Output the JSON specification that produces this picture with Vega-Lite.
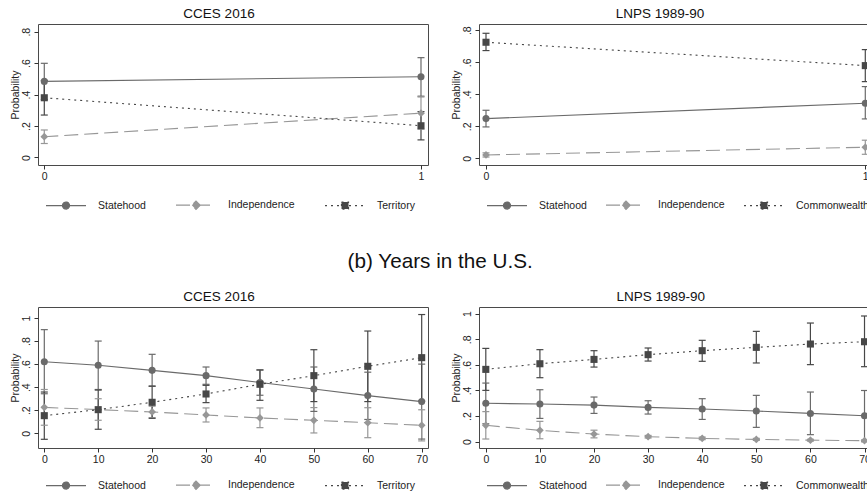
{
  "$schema": "https://vega.github.io/schema/vega-lite/v6.json",
  "padding": {"left": 9, "top": 6, "right": 0, "bottom": 0},
  "background": "white",
  "config": {
    "font": "Liberation Sans",
    "view": {"stroke": "#4a4a4a", "strokeWidth": 1},
    "axis": {"grid": false, "domain": false, "ticks": true, "tickSize": 4, "tickColor": "#333", "tickWidth": 1, "labelFont": "Liberation Sans", "labelFontSize": 10.5, "labelColor": "#222", "labelPadding": 2, "titleFont": "Liberation Sans", "titleFontSize": 10.5, "titleFontWeight": "normal", "titleColor": "#222", "labelFlush": false, "labelOverlap": false},
    "axisY": {"labelAngle": -90, "labelAlign": "center", "labelBaseline": "bottom", "labelPadding": 3, "titlePadding": 1, "labelOverlap": false},
    "title": {"font": "Liberation Sans", "fontSize": 13.5, "fontWeight": "normal", "color": "#111", "anchor": "middle", "frame": "bounds", "offset": 4},
    "legend": {"orient": "bottom", "direction": "horizontal", "symbolSize": 144, "labelOffset": 46, "columnPadding": 22, "labelFont": "Liberation Sans", "labelFontSize": 10.5, "labelColor": "#222", "symbolStrokeWidth": 1.2, "symbolOpacity": 1, "offset": 14, "padding": 0}
  },
  "datasets": {
    "cb": [
      {"x": 0, "series": "Statehood", "p": 0.484, "lo": 0.369, "hi": 0.599},
      {"x": 1, "series": "Statehood", "p": 0.514, "lo": 0.39, "hi": 0.635},
      {"x": 0, "series": "Independence", "p": 0.132, "lo": 0.089, "hi": 0.175},
      {"x": 1, "series": "Independence", "p": 0.282, "lo": 0.18, "hi": 0.385},
      {"x": 0, "series": "Territory", "p": 0.38, "lo": 0.27, "hi": 0.49},
      {"x": 1, "series": "Territory", "p": 0.202, "lo": 0.112, "hi": 0.292}
    ],
    "lb": [
      {"x": 0, "series": "Statehood", "p": 0.248, "lo": 0.196, "hi": 0.3},
      {"x": 1, "series": "Statehood", "p": 0.344, "lo": 0.246, "hi": 0.448},
      {"x": 0, "series": "Independence", "p": 0.021, "lo": 0.008, "hi": 0.034},
      {"x": 1, "series": "Independence", "p": 0.069, "lo": 0.025, "hi": 0.113},
      {"x": 0, "series": "Commonwealth", "p": 0.725, "lo": 0.673, "hi": 0.781},
      {"x": 1, "series": "Commonwealth", "p": 0.579, "lo": 0.479, "hi": 0.679}
    ],
    "cy": [
      {"x": 0, "series": "Statehood", "p": 0.621, "lo": 0.343, "hi": 0.899},
      {"x": 10, "series": "Statehood", "p": 0.59, "lo": 0.38, "hi": 0.8},
      {"x": 20, "series": "Statehood", "p": 0.546, "lo": 0.407, "hi": 0.685},
      {"x": 30, "series": "Statehood", "p": 0.5, "lo": 0.425, "hi": 0.575},
      {"x": 40, "series": "Statehood", "p": 0.44, "lo": 0.33, "hi": 0.55},
      {"x": 50, "series": "Statehood", "p": 0.384, "lo": 0.19, "hi": 0.575},
      {"x": 60, "series": "Statehood", "p": 0.327, "lo": 0.12, "hi": 0.53},
      {"x": 70, "series": "Statehood", "p": 0.275, "lo": -0.05, "hi": 0.6},
      {"x": 0, "series": "Independence", "p": 0.225, "lo": 0.07, "hi": 0.38},
      {"x": 10, "series": "Independence", "p": 0.205, "lo": 0.113, "hi": 0.3},
      {"x": 20, "series": "Independence", "p": 0.185, "lo": 0.135, "hi": 0.235},
      {"x": 30, "series": "Independence", "p": 0.159, "lo": 0.098, "hi": 0.22},
      {"x": 40, "series": "Independence", "p": 0.133, "lo": 0.049, "hi": 0.22},
      {"x": 50, "series": "Independence", "p": 0.113, "lo": 0.003, "hi": 0.223},
      {"x": 60, "series": "Independence", "p": 0.092, "lo": -0.038, "hi": 0.222},
      {"x": 70, "series": "Independence", "p": 0.069, "lo": -0.066, "hi": 0.204},
      {"x": 0, "series": "Territory", "p": 0.153, "lo": -0.052, "hi": 0.358},
      {"x": 10, "series": "Territory", "p": 0.205, "lo": 0.035, "hi": 0.375},
      {"x": 20, "series": "Territory", "p": 0.269, "lo": 0.13, "hi": 0.41},
      {"x": 30, "series": "Territory", "p": 0.341, "lo": 0.266, "hi": 0.416},
      {"x": 40, "series": "Territory", "p": 0.425, "lo": 0.286, "hi": 0.549},
      {"x": 50, "series": "Territory", "p": 0.5, "lo": 0.275, "hi": 0.725},
      {"x": 60, "series": "Territory", "p": 0.581, "lo": 0.275, "hi": 0.887},
      {"x": 70, "series": "Territory", "p": 0.656, "lo": 0.28, "hi": 1.03}
    ],
    "ly": [
      {"x": 0, "series": "Statehood", "p": 0.3, "lo": 0.14, "hi": 0.458},
      {"x": 10, "series": "Statehood", "p": 0.294, "lo": 0.182, "hi": 0.406},
      {"x": 20, "series": "Statehood", "p": 0.286, "lo": 0.221, "hi": 0.349},
      {"x": 30, "series": "Statehood", "p": 0.268, "lo": 0.216, "hi": 0.32},
      {"x": 40, "series": "Statehood", "p": 0.255, "lo": 0.174, "hi": 0.336},
      {"x": 50, "series": "Statehood", "p": 0.24, "lo": 0.112, "hi": 0.362},
      {"x": 60, "series": "Statehood", "p": 0.221, "lo": 0.055, "hi": 0.388},
      {"x": 70, "series": "Statehood", "p": 0.203, "lo": 0.0, "hi": 0.4},
      {"x": 0, "series": "Independence", "p": 0.128, "lo": 0.021, "hi": 0.235},
      {"x": 10, "series": "Independence", "p": 0.0885, "lo": 0.023, "hi": 0.159},
      {"x": 20, "series": "Independence", "p": 0.06, "lo": 0.03, "hi": 0.09},
      {"x": 30, "series": "Independence", "p": 0.039, "lo": 0.029, "hi": 0.049},
      {"x": 40, "series": "Independence", "p": 0.026, "lo": 0.016, "hi": 0.036},
      {"x": 50, "series": "Independence", "p": 0.018, "lo": 0.01, "hi": 0.026},
      {"x": 60, "series": "Independence", "p": 0.012, "lo": 0.005, "hi": 0.019},
      {"x": 70, "series": "Independence", "p": 0.008, "lo": 0.002, "hi": 0.014},
      {"x": 0, "series": "Commonwealth", "p": 0.565, "lo": 0.401, "hi": 0.729},
      {"x": 10, "series": "Commonwealth", "p": 0.609, "lo": 0.5, "hi": 0.719},
      {"x": 20, "series": "Commonwealth", "p": 0.643, "lo": 0.583, "hi": 0.711},
      {"x": 30, "series": "Commonwealth", "p": 0.68, "lo": 0.63, "hi": 0.732},
      {"x": 40, "series": "Commonwealth", "p": 0.711, "lo": 0.628, "hi": 0.792},
      {"x": 50, "series": "Commonwealth", "p": 0.737, "lo": 0.615, "hi": 0.862},
      {"x": 60, "series": "Commonwealth", "p": 0.763, "lo": 0.602, "hi": 0.927},
      {"x": 70, "series": "Commonwealth", "p": 0.781, "lo": 0.586, "hi": 0.982}
    ]
  },
  "resolve": {"scale": {"color": "independent", "fill": "independent", "stroke": "independent", "shape": "independent", "strokeDash": "independent"}, "legend": {"color": "independent", "fill": "independent", "stroke": "independent", "shape": "independent", "strokeDash": "independent"}},
  "spacing": 38,
  "vconcat": [
    {
      "spacing": 21,
      "resolve": {"scale": {"color": "independent", "fill": "independent", "stroke": "independent", "shape": "independent", "strokeDash": "independent"}, "legend": {"color": "independent", "fill": "independent", "stroke": "independent", "shape": "independent", "strokeDash": "independent"}},
      "hconcat": [
        {
          "width": 390, "height": 141, "title": "CCES 2016", "data": {"name": "cb"},
          "encoding": {
            "x": {"field": "x", "type": "quantitative", "scale": {"domain": [-0.0167, 1.0186], "nice": false, "zero": false}, "axis": {"values": [0, 1], "title": null, "format": "d", "labelOverlap": false}},
            "y": {"field": "p", "type": "quantitative", "scale": {"domain": [-0.0477, 0.849], "nice": false, "zero": false}, "axis": {"values": [0, 0.2, 0.4, 0.6, 0.8], "title": "Probability", "labelOverlap": false, "labelExpr": "datum.value == 0 ? '0' : datum.value == 1 ? '1' : replace(format(datum.value, '.1f'), '0.', '.')"}},
            "color": {"field": "series", "type": "nominal", "scale": {"range": ["#979797", "#6a6a6a", "#474747"]}, "legend": null}
          },
          "layer": [
            {"mark": {"type": "rule", "strokeWidth": 1.2}, "encoding": {"y": {"field": "lo", "type": "quantitative", "scale": {"domain": [-0.0477, 0.849], "nice": false, "zero": false}, "axis": {"values": [0, 0.2, 0.4, 0.6, 0.8], "title": "Probability", "labelOverlap": false, "labelExpr": "datum.value == 0 ? '0' : datum.value == 1 ? '1' : replace(format(datum.value, '.1f'), '0.', '.')"}}, "y2": {"field": "hi"}}},
            {"transform": [{"fold": ["lo", "hi"], "as": ["end", "v"]}], "mark": {"type": "tick", "orient": "horizontal", "size": 7, "thickness": 1.2, "opacity": 1}, "encoding": {"y": {"field": "v", "type": "quantitative", "scale": {"domain": [-0.0477, 0.849], "nice": false, "zero": false}, "axis": {"values": [0, 0.2, 0.4, 0.6, 0.8], "title": "Probability", "labelOverlap": false, "labelExpr": "datum.value == 0 ? '0' : datum.value == 1 ? '1' : replace(format(datum.value, '.1f'), '0.', '.')"}}}},
            {"transform": [{"filter": "datum.series == 'Statehood'"}], "mark": {"type": "line", "strokeWidth": 1.1, "point": {"shape": "circle", "filled": true, "size": 50, "opacity": 1}}},
            {"transform": [{"filter": "datum.series == 'Independence'"}], "mark": {"type": "line", "strokeWidth": 1.1, "strokeDash": [14, 6], "point": {"shape": "diamond", "filled": true, "size": 60, "opacity": 1}}},
            {"transform": [{"filter": "datum.series == 'Territory'"}], "mark": {"type": "line", "strokeWidth": 1.1, "strokeDash": [2, 4], "point": {"shape": "square", "filled": true, "size": 50, "opacity": 1}}},
            {"transform": [{"filter": "datum.p < -5"}], "mark": {"type": "point", "filled": true}, "encoding": {
              "shape": {"field": "series", "type": "nominal", "scale": {"domain": ["Statehood", "Independence", "Territory"], "range": ["M0.167,0H6.833M4.083,0A0.583,0.583,0,1,1,2.917,0A0.583,0.583,0,1,1,4.083,0Z", "M0.167,0H6.833M3.5,-0.7L4.2,0L3.5,0.7L2.8,0Z", "M0.167,0H6.833M2.917,-0.583H4.083V0.583H2.917Z"]}, "legend": {"title": null, "offset": 16}},
              "fill": {"field": "series", "type": "nominal", "scale": {"domain": ["Statehood", "Independence", "Territory"], "range": ["#6a6a6a", "#979797", "#474747"]}, "legend": {"title": null, "offset": 16}},
              "stroke": {"field": "series", "type": "nominal", "scale": {"domain": ["Statehood", "Independence", "Territory"], "range": ["#6a6a6a", "#979797", "#474747"]}, "legend": {"title": null, "offset": 16}},
              "strokeDash": {"field": "series", "type": "nominal", "scale": {"domain": ["Statehood", "Independence", "Territory"], "range": [[1, 0], [14, 6], [2, 4]]}, "legend": {"title": null, "offset": 16}}
            }}
          ]
        },
        {
          "width": 388, "height": 141, "title": "LNPS 1989-90", "data": {"name": "lb"},
          "encoding": {
            "x": {"field": "x", "type": "quantitative", "scale": {"domain": [-0.01846, 1.0045], "nice": false, "zero": false}, "axis": {"values": [0, 1], "title": null, "format": "d", "labelOverlap": false}},
            "y": {"field": "p", "type": "quantitative", "scale": {"domain": [-0.0419, 0.839], "nice": false, "zero": false}, "axis": {"values": [0, 0.2, 0.4, 0.6, 0.8], "title": "Probability", "labelOverlap": false, "labelExpr": "datum.value == 0 ? '0' : datum.value == 1 ? '1' : replace(format(datum.value, '.1f'), '0.', '.')"}},
            "color": {"field": "series", "type": "nominal", "scale": {"range": ["#474747", "#979797", "#6a6a6a"]}, "legend": null}
          },
          "layer": [
            {"mark": {"type": "rule", "strokeWidth": 1.2}, "encoding": {"y": {"field": "lo", "type": "quantitative", "scale": {"domain": [-0.0419, 0.839], "nice": false, "zero": false}, "axis": {"values": [0, 0.2, 0.4, 0.6, 0.8], "title": "Probability", "labelOverlap": false, "labelExpr": "datum.value == 0 ? '0' : datum.value == 1 ? '1' : replace(format(datum.value, '.1f'), '0.', '.')"}}, "y2": {"field": "hi"}}},
            {"transform": [{"fold": ["lo", "hi"], "as": ["end", "v"]}], "mark": {"type": "tick", "orient": "horizontal", "size": 7, "thickness": 1.2, "opacity": 1}, "encoding": {"y": {"field": "v", "type": "quantitative", "scale": {"domain": [-0.0419, 0.839], "nice": false, "zero": false}, "axis": {"values": [0, 0.2, 0.4, 0.6, 0.8], "title": "Probability", "labelOverlap": false, "labelExpr": "datum.value == 0 ? '0' : datum.value == 1 ? '1' : replace(format(datum.value, '.1f'), '0.', '.')"}}}},
            {"transform": [{"filter": "datum.series == 'Statehood'"}], "mark": {"type": "line", "strokeWidth": 1.1, "point": {"shape": "circle", "filled": true, "size": 50, "opacity": 1}}},
            {"transform": [{"filter": "datum.series == 'Independence'"}], "mark": {"type": "line", "strokeWidth": 1.1, "strokeDash": [14, 6], "point": {"shape": "diamond", "filled": true, "size": 60, "opacity": 1}}},
            {"transform": [{"filter": "datum.series == 'Commonwealth'"}], "mark": {"type": "line", "strokeWidth": 1.1, "strokeDash": [2, 4], "point": {"shape": "square", "filled": true, "size": 50, "opacity": 1}}},
            {"transform": [{"filter": "datum.p < -5"}], "mark": {"type": "point", "filled": true}, "encoding": {
              "shape": {"field": "series", "type": "nominal", "scale": {"domain": ["Statehood", "Independence", "Commonwealth"], "range": ["M0.167,0H6.833M4.083,0A0.583,0.583,0,1,1,2.917,0A0.583,0.583,0,1,1,4.083,0Z", "M0.167,0H6.833M3.5,-0.7L4.2,0L3.5,0.7L2.8,0Z", "M0.167,0H6.833M2.917,-0.583H4.083V0.583H2.917Z"]}, "legend": {"title": null, "columnPadding": 11, "offset": 16}},
              "fill": {"field": "series", "type": "nominal", "scale": {"domain": ["Statehood", "Independence", "Commonwealth"], "range": ["#6a6a6a", "#979797", "#474747"]}, "legend": {"title": null, "columnPadding": 11, "offset": 16}},
              "stroke": {"field": "series", "type": "nominal", "scale": {"domain": ["Statehood", "Independence", "Commonwealth"], "range": ["#6a6a6a", "#979797", "#474747"]}, "legend": {"title": null, "columnPadding": 11, "offset": 16}},
              "strokeDash": {"field": "series", "type": "nominal", "scale": {"domain": ["Statehood", "Independence", "Commonwealth"], "range": [[1, 0], [14, 6], [2, 4]]}, "legend": {"title": null, "columnPadding": 11, "offset": 16}}
            }}
          ]
        }
      ]
    },
    {
      "title": {"text": "(b) Years in the U.S.", "fontSize": 20.7, "offset": 16, "anchor": "middle", "frame": "bounds", "color": "#111"},
      "spacing": 21,
      "resolve": {"scale": {"color": "independent", "fill": "independent", "stroke": "independent", "shape": "independent", "strokeDash": "independent"}, "legend": {"color": "independent", "fill": "independent", "stroke": "independent", "shape": "independent", "strokeDash": "independent"}},
      "hconcat": [
        {
          "width": 390, "height": 141, "title": "CCES 2016", "data": {"name": "cy"},
          "encoding": {
            "x": {"field": "x", "type": "quantitative", "scale": {"domain": [-1.169, 71.17], "nice": false, "zero": false}, "axis": {"values": [0, 10, 20, 30, 40, 50, 60, 70], "title": null, "format": "d", "labelOverlap": false}},
            "y": {"field": "p", "type": "quantitative", "scale": {"domain": [-0.1275, 1.0954], "nice": false, "zero": false}, "axis": {"values": [0, 0.2, 0.4, 0.6, 0.8, 1], "title": "Probability", "labelOverlap": false, "labelExpr": "datum.value == 0 ? '0' : datum.value == 1 ? '1' : replace(format(datum.value, '.1f'), '0.', '.')"}},
            "color": {"field": "series", "type": "nominal", "scale": {"range": ["#979797", "#6a6a6a", "#474747"]}, "legend": null}
          },
          "layer": [
            {"mark": {"type": "rule", "strokeWidth": 1.2}, "encoding": {"y": {"field": "lo", "type": "quantitative", "scale": {"domain": [-0.1275, 1.0954], "nice": false, "zero": false}, "axis": {"values": [0, 0.2, 0.4, 0.6, 0.8, 1], "title": "Probability", "labelOverlap": false, "labelExpr": "datum.value == 0 ? '0' : datum.value == 1 ? '1' : replace(format(datum.value, '.1f'), '0.', '.')"}}, "y2": {"field": "hi"}}},
            {"transform": [{"fold": ["lo", "hi"], "as": ["end", "v"]}], "mark": {"type": "tick", "orient": "horizontal", "size": 7, "thickness": 1.2, "opacity": 1}, "encoding": {"y": {"field": "v", "type": "quantitative", "scale": {"domain": [-0.1275, 1.0954], "nice": false, "zero": false}, "axis": {"values": [0, 0.2, 0.4, 0.6, 0.8, 1], "title": "Probability", "labelOverlap": false, "labelExpr": "datum.value == 0 ? '0' : datum.value == 1 ? '1' : replace(format(datum.value, '.1f'), '0.', '.')"}}}},
            {"transform": [{"filter": "datum.series == 'Statehood'"}], "mark": {"type": "line", "strokeWidth": 1.1, "point": {"shape": "circle", "filled": true, "size": 50, "opacity": 1}}},
            {"transform": [{"filter": "datum.series == 'Independence'"}], "mark": {"type": "line", "strokeWidth": 1.1, "strokeDash": [14, 6], "point": {"shape": "diamond", "filled": true, "size": 60, "opacity": 1}}},
            {"transform": [{"filter": "datum.series == 'Territory'"}], "mark": {"type": "line", "strokeWidth": 1.1, "strokeDash": [2, 4], "point": {"shape": "square", "filled": true, "size": 50, "opacity": 1}}},
            {"transform": [{"filter": "datum.p < -5"}], "mark": {"type": "point", "filled": true}, "encoding": {
              "shape": {"field": "series", "type": "nominal", "scale": {"domain": ["Statehood", "Independence", "Territory"], "range": ["M0.167,0H6.833M4.083,0A0.583,0.583,0,1,1,2.917,0A0.583,0.583,0,1,1,4.083,0Z", "M0.167,0H6.833M3.5,-0.7L4.2,0L3.5,0.7L2.8,0Z", "M0.167,0H6.833M2.917,-0.583H4.083V0.583H2.917Z"]}, "legend": {"title": null, "offset": 13}},
              "fill": {"field": "series", "type": "nominal", "scale": {"domain": ["Statehood", "Independence", "Territory"], "range": ["#6a6a6a", "#979797", "#474747"]}, "legend": {"title": null, "offset": 13}},
              "stroke": {"field": "series", "type": "nominal", "scale": {"domain": ["Statehood", "Independence", "Territory"], "range": ["#6a6a6a", "#979797", "#474747"]}, "legend": {"title": null, "offset": 13}},
              "strokeDash": {"field": "series", "type": "nominal", "scale": {"domain": ["Statehood", "Independence", "Territory"], "range": [[1, 0], [14, 6], [2, 4]]}, "legend": {"title": null, "offset": 13}}
            }}
          ]
        },
        {
          "width": 388, "height": 141, "title": "LNPS 1989-90", "data": {"name": "ly"},
          "encoding": {
            "x": {"field": "x", "type": "quantitative", "scale": {"domain": [-1.257, 70.46], "nice": false, "zero": false}, "axis": {"values": [0, 10, 20, 30, 40, 50, 60, 70], "title": null, "format": "d", "labelOverlap": false}},
            "y": {"field": "p", "type": "quantitative", "scale": {"domain": [-0.0492, 1.0523], "nice": false, "zero": false}, "axis": {"values": [0, 0.2, 0.4, 0.6, 0.8, 1], "title": "Probability", "labelOverlap": false, "labelExpr": "datum.value == 0 ? '0' : datum.value == 1 ? '1' : replace(format(datum.value, '.1f'), '0.', '.')"}},
            "color": {"field": "series", "type": "nominal", "scale": {"range": ["#474747", "#979797", "#6a6a6a"]}, "legend": null}
          },
          "layer": [
            {"mark": {"type": "rule", "strokeWidth": 1.2}, "encoding": {"y": {"field": "lo", "type": "quantitative", "scale": {"domain": [-0.0492, 1.0523], "nice": false, "zero": false}, "axis": {"values": [0, 0.2, 0.4, 0.6, 0.8, 1], "title": "Probability", "labelOverlap": false, "labelExpr": "datum.value == 0 ? '0' : datum.value == 1 ? '1' : replace(format(datum.value, '.1f'), '0.', '.')"}}, "y2": {"field": "hi"}}},
            {"transform": [{"fold": ["lo", "hi"], "as": ["end", "v"]}], "mark": {"type": "tick", "orient": "horizontal", "size": 7, "thickness": 1.2, "opacity": 1}, "encoding": {"y": {"field": "v", "type": "quantitative", "scale": {"domain": [-0.0492, 1.0523], "nice": false, "zero": false}, "axis": {"values": [0, 0.2, 0.4, 0.6, 0.8, 1], "title": "Probability", "labelOverlap": false, "labelExpr": "datum.value == 0 ? '0' : datum.value == 1 ? '1' : replace(format(datum.value, '.1f'), '0.', '.')"}}}},
            {"transform": [{"filter": "datum.series == 'Statehood'"}], "mark": {"type": "line", "strokeWidth": 1.1, "point": {"shape": "circle", "filled": true, "size": 50, "opacity": 1}}},
            {"transform": [{"filter": "datum.series == 'Independence'"}], "mark": {"type": "line", "strokeWidth": 1.1, "strokeDash": [14, 6], "point": {"shape": "diamond", "filled": true, "size": 60, "opacity": 1}}},
            {"transform": [{"filter": "datum.series == 'Commonwealth'"}], "mark": {"type": "line", "strokeWidth": 1.1, "strokeDash": [2, 4], "point": {"shape": "square", "filled": true, "size": 50, "opacity": 1}}},
            {"transform": [{"filter": "datum.p < -5"}], "mark": {"type": "point", "filled": true}, "encoding": {
              "shape": {"field": "series", "type": "nominal", "scale": {"domain": ["Statehood", "Independence", "Commonwealth"], "range": ["M0.167,0H6.833M4.083,0A0.583,0.583,0,1,1,2.917,0A0.583,0.583,0,1,1,4.083,0Z", "M0.167,0H6.833M3.5,-0.7L4.2,0L3.5,0.7L2.8,0Z", "M0.167,0H6.833M2.917,-0.583H4.083V0.583H2.917Z"]}, "legend": {"title": null, "columnPadding": 11, "offset": 13}},
              "fill": {"field": "series", "type": "nominal", "scale": {"domain": ["Statehood", "Independence", "Commonwealth"], "range": ["#6a6a6a", "#979797", "#474747"]}, "legend": {"title": null, "columnPadding": 11, "offset": 13}},
              "stroke": {"field": "series", "type": "nominal", "scale": {"domain": ["Statehood", "Independence", "Commonwealth"], "range": ["#6a6a6a", "#979797", "#474747"]}, "legend": {"title": null, "columnPadding": 11, "offset": 13}},
              "strokeDash": {"field": "series", "type": "nominal", "scale": {"domain": ["Statehood", "Independence", "Commonwealth"], "range": [[1, 0], [14, 6], [2, 4]]}, "legend": {"title": null, "columnPadding": 11, "offset": 13}}
            }}
          ]
        }
      ]
    }
  ]
}
